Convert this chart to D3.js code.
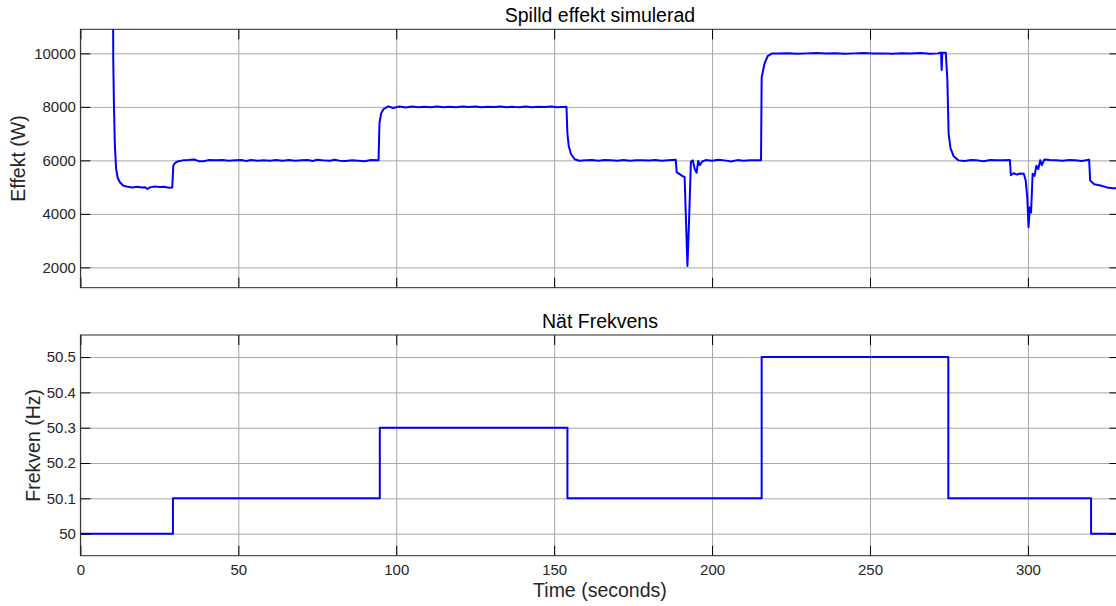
<!DOCTYPE html>
<html>
<head>
<meta charset="utf-8">
<script src="https://cdn.jsdelivr.net/npm/d3@7"></script>
<style>
  html, body { margin: 0; padding: 0; background: #fff; }
  svg { display: block; font-family: "Liberation Sans", Arial, sans-serif; }
  .tick text { fill: #262626; font-size: 15px; }
</style>
</head>
<body>
<svg id="chart" width="1116" height="606"></svg>
<script>
// Spilld effekt / Nät frekvens — two stacked MATLAB-style subplots

// time axis
const xTicks = [0, 50, 100, 150, 200, 250, 300];
const xDomain = [0, 329];

// top plot: dissipated power (W)
const powerTicks = [2000, 4000, 6000, 8000, 10000];
const powerDomain = [1240, 10900];
const powerTime = [
  10.2, 10.4, 10.6, 10.9, 11.3, 11.8, 12.5, 13.5, 15.0, 16.5, 18.0, 19.5, 20.5, 21.2, 22.0, 23.5, 25.0, 26.5, 28.0, 29.1,
  29.4, 30.0, 31.0, 32.5, 34.0, 36.0, 37.5, 39.0, 40.5, 43.0, 45.0, 47.0, 49.0, 51.0, 52.5, 54.0, 56.0, 58.0, 60.0, 62.0,
  64.0, 66.0, 68.0, 70.0, 72.0, 73.5, 75.0, 77.0, 79.0, 80.5, 82.0, 84.0, 86.0, 88.0, 90.0, 92.0, 94.4,
  94.7, 95.2, 96.0, 97.5, 99.0, 101, 103, 105, 107, 109, 111, 113, 115, 117, 119, 121, 123, 125, 127, 129, 131, 133,
  135, 137, 139, 141, 143, 145, 147, 149, 151, 153.9,
  154.2, 154.6, 155.3, 156.5, 158, 160, 162, 164, 166, 168, 170, 172, 174, 176, 178, 180, 182, 184, 186, 188.5,
  188.8, 189.6, 190.5, 191.3, 192.2, 192.7, 193.3, 193.9, 194.5, 195.1, 195.6, 196.1, 196.9, 198, 200, 202, 204, 206,
  208, 210, 212, 215.5,
  215.7, 216.6, 217.6, 219, 221, 224, 227, 230, 233, 236, 239, 242, 245, 248, 251, 254, 257, 260, 263, 266, 269,
  271.5, 272.5, 272.7, 272.9, 274.0,
  274.5, 274.9, 275.5, 276.5, 278, 280, 282, 284, 286, 288, 290, 292, 294.3,
  294.6, 295.5, 296.5, 297.5, 298.7, 299.3, 299.8, 300.2, 300.6, 301.0, 301.5, 302.1, 302.7, 303.3, 303.9, 304.4,
  305.2, 307, 309, 311, 313, 315, 317, 319.4,
  319.7, 321, 323, 325, 327, 329
];
const powerW = [
  16000, 9800, 8200, 6600, 5700, 5350, 5180, 5060, 5010, 4990, 5010, 4985, 4995, 4930, 4990, 5020, 5005, 5010, 4975, 4990,
  5800, 5910, 5970, 6000, 6010, 6030, 5970, 5965, 6010, 6000, 6010, 5990, 6005, 6010, 5980, 6010, 5990, 6005, 5985, 6010,
  5990, 6010, 5990, 6005, 6015, 5980, 6020, 6000, 5985, 6025, 5990, 5975, 6005, 5990, 5970, 6015, 6000,
  7400, 7750, 7920, 8020, 7960, 8015, 7975, 8010, 7990, 8005, 7985, 8010, 7990, 8005, 7985, 8010, 7995, 8010, 7985, 8005, 7995, 8015,
  7990, 8000, 7985, 8010, 7990, 8005, 7995, 8010, 7990, 8000,
  7000, 6550, 6250, 6040, 5985, 6000, 6010, 5985, 6015, 6000, 5990, 6010, 5985, 6005, 6000, 5995, 6010, 5990, 6005, 6020,
  5550, 5500, 5420, 5380, 2050, 3700, 5950, 6000, 5680, 5540, 5980, 5820, 5960, 6010, 5990, 6020, 6000, 5960,
  6010, 5990, 6005, 6000,
  9100, 9620, 9900, 10000, 9995, 10005, 9990, 10000, 10010, 9995, 10005, 9990, 10000, 10010, 9995, 10000, 9990, 10005, 9995, 10010, 9990,
  10000, 10030, 9380, 10020, 10020,
  9000, 7000, 6450, 6150, 6000, 5980, 6010, 6000, 5970, 6010, 6005, 6000, 6010,
  5450, 5520, 5470, 5510, 5500, 5250, 4600, 3500, 4250, 4050, 5500, 5420, 5800, 5680, 6010, 5820,
  6030, 6010, 6000, 5990, 6010, 6005, 5980, 6020,
  5250, 5110, 5060, 4990, 4960, 4950
];

// bottom plot: grid frequency (Hz), stepwise
const freqTicks = [50, 50.1, 50.2, 50.3, 50.4, 50.5];
const freqDomain = [49.9375, 50.5625];
const freqTime = [0, 29.3, 94.8, 154.2, 215.7, 274.8, 320.0, 329];
const freqHz = [50, 50.1, 50.3, 50.1, 50.5, 50.1, 50, 50];

const svg = d3.select("#chart");
const plotLeft = 80.4, plotRight = 1119.5;
const axisColor = "#262626", gridColor = "#a8a8a8", lineColor = "#0000ff";

const x = d3.scaleLinear().domain(xDomain).range([plotLeft, plotRight]);

drawPanel({
  id: "power", top: 29.3, bottom: 287.7,
  domain: powerDomain, ticks: powerTicks,
  time: powerTime, values: powerW,
  title: "Spilld effekt simulerad", titleY: 21.7,
  ylabel: "Effekt (W)", ylabelX: 25,
  showX: false, curve: d3.curveLinear, fmt: d3.format("d")
});

drawPanel({
  id: "freq", top: 335, bottom: 555.7,
  domain: freqDomain, ticks: freqTicks,
  time: freqTime, values: freqHz,
  title: "Nät Frekvens", titleY: 327.7,
  ylabel: "Frekven (Hz)", ylabelX: 39.5,
  showX: true, curve: d3.curveStepAfter, fmt: d => (+d.toFixed(1)).toString()
});

// -----------------------------
// one subplot with box, grid, inward ticks and a blue trace
// -----------------------------
function drawPanel(p) {
  const y = d3.scaleLinear().domain(p.domain).range([p.bottom, p.top]);
  const width = plotRight - plotLeft, height = p.bottom - p.top;
  const g = svg.append("g");

  g.append("clipPath").attr("id", "clip-" + p.id)
    .append("rect")
    .attr("x", plotLeft).attr("y", p.top)
    .attr("width", width).attr("height", height);

  // grid
  g.append("g")
    .attr("transform", `translate(0,${p.bottom})`)
    .call(d3.axisBottom(x).tickValues(xTicks).tickSize(-height).tickFormat(""))
    .selectAll(".tick line").attr("stroke", gridColor);
  g.append("g")
    .attr("transform", `translate(${plotLeft},0)`)
    .call(d3.axisLeft(y).tickValues(p.ticks).tickSize(-width).tickFormat(""))
    .selectAll(".tick line").attr("stroke", gridColor);

  // trace
  const line = d3.line()
    .x((d, i) => x(p.time[i]))
    .y(d => y(d))
    .curve(p.curve);
  g.append("path")
    .datum(p.values)
    .attr("clip-path", `url(#clip-${p.id})`)
    .attr("fill", "none")
    .attr("stroke", lineColor)
    .attr("stroke-width", 2)
    .attr("stroke-linejoin", "round")
    .attr("d", line);

  // inward ticks on all four sides
  g.append("g")
    .attr("transform", `translate(${plotLeft},0)`)
    .call(d3.axisLeft(y).tickValues(p.ticks).tickSize(-10).tickPadding(4.5).tickFormat(p.fmt));
  g.append("g")
    .attr("transform", `translate(${plotRight},0)`)
    .call(d3.axisRight(y).tickValues(p.ticks).tickSize(-10).tickFormat(""));
  g.append("g")
    .attr("transform", `translate(0,${p.top})`)
    .call(d3.axisTop(x).tickValues(xTicks).tickSize(-10).tickFormat(""));
  g.append("g")
    .attr("transform", `translate(0,${p.bottom})`)
    .call(d3.axisBottom(x).tickValues(xTicks).tickSize(-10).tickPadding(9)
      .tickFormat(p.showX ? d3.format("d") : ""));

  g.selectAll(".domain").remove();
  g.selectAll("g").attr("font-family", null).attr("font-size", null);

  // box
  g.append("rect")
    .attr("x", plotLeft).attr("y", p.top)
    .attr("width", width).attr("height", height)
    .attr("fill", "none")
    .attr("stroke", axisColor)
    .attr("stroke-width", 1);

  // title and y label
  svg.append("text")
    .attr("x", (plotLeft + plotRight) / 2)
    .attr("y", p.titleY)
    .attr("text-anchor", "middle")
    .attr("font-size", "19.5px")
    .attr("fill", "#000")
    .text(p.title);

  svg.append("text")
    .attr("transform", `translate(${p.ylabelX},${(p.top + p.bottom) / 2}) rotate(-90)`)
    .attr("text-anchor", "middle")
    .attr("font-size", "19.5px")
    .attr("fill", "#262626")
    .text(p.ylabel);

  if (p.showX) {
    svg.append("text")
      .attr("x", (plotLeft + plotRight) / 2)
      .attr("y", 596.5)
      .attr("text-anchor", "middle")
      .attr("font-size", "19.5px")
      .attr("fill", "#262626")
      .text("Time (seconds)");
  }
}
</script>
</body>
</html>
